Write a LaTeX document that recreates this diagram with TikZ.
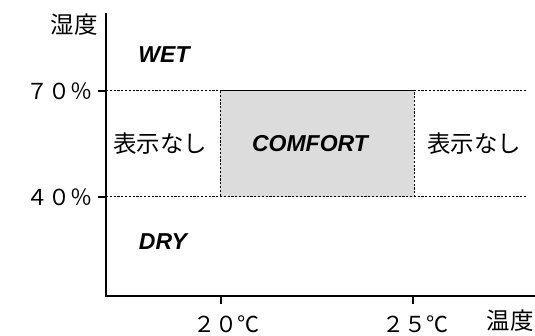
\documentclass[tikz,border=0pt]{standalone}
\usepackage{fontspec}
\setmainfont{Liberation Sans}
\newfontfamily\jpfont{Noto Sans CJK JP}
\usepackage{xcolor}
\usepackage{tikz}
\usetikzlibrary{positioning,calc}

\definecolor{comfortgray}{HTML}{DCDCDC}

\begin{document}
\begin{tikzpicture}[x=1pt, y=-1pt,
        % Styles for the chart
        axisline/.style={line width=1.3pt},
        tickline/.style={line width=1.1pt},
        limitline/.style={line width=1pt, dash pattern=on 2.2pt off 1.6pt},
        comfortbox/.style={draw, limitline, fill=comfortgray, minimum width=194pt, minimum height=106pt, inner sep=0pt},
        zonelabel/.style={font=\fontsize{23}{23}\selectfont\bfseries\itshape},
        jplabel/.style={font=\jpfont\fontsize{23.5}{24}\selectfont, inner sep=0pt},
        ticklabel/.style={font=\jpfont\fontsize{22}{22}\selectfont, inner sep=0pt}
      ]

      \useasboundingbox (0,0) rectangle (535,336);

      % Axes
      \coordinate (origin) at (106,296);
      \coordinate (ytop) at (106,13);
      \coordinate (xend) at (535,296);
      \draw[axisline] (ytop) -- (origin) -- (xend);

      % Humidity limits
      \coordinate (hum70) at (98,91);
      \coordinate (hum40) at (98,197);
      \coordinate (hum70end) at (526,91);
      \coordinate (hum40end) at (526,197);
      \draw[tickline] (hum70) -- (106,91);
      \draw[tickline] (hum40) -- (106,197);
      \draw[limitline] (106,91) -- (hum70end);
      \draw[limitline] (106,197) -- (hum40end);

      % Comfort zone
      \node[comfortbox] (comfort) at (317,144) {};
      \node[zonelabel] (comfortlbl) at (310,144) {COMFORT};

      % Temperature ticks
      \coordinate (t20) at (221,296);
      \coordinate (t25) at (413,296);
      \draw[tickline] (t20) -- ++(0,8);
      \draw[tickline] (t25) -- ++(0,8);

      % Axis labels
      \node[jplabel, anchor=east] (ylabel) at (98,25) {湿度};
      \node[jplabel] (xlabel) at (510,321) {温度};
      \node[ticklabel, anchor=east] (lbl70) at (93,91) {７０％};
      \node[ticklabel, anchor=east] (lbl40) at (93,197) {４０％};
      \node[ticklabel] (lbl20) at (226,324) {２０℃};
      \node[ticklabel] (lbl25) at (415,324) {２５℃};

      % Zone labels
      \node[zonelabel] (wet) at (164,55) {WET};
      \node[zonelabel] (dry) at (163,242) {DRY};
      \node[jplabel] (noneleft) at (160,144) {表示なし};
      \node[jplabel] (noneright) at (474,144) {表示なし};

    \end{tikzpicture}
\end{document}
